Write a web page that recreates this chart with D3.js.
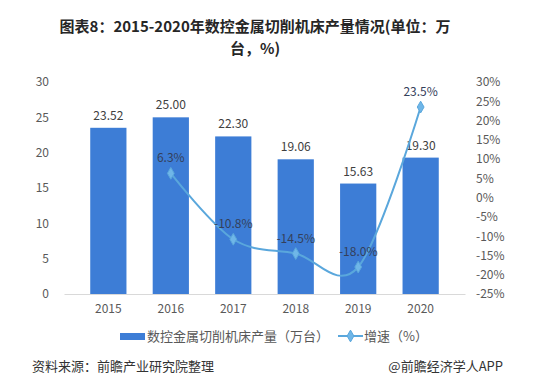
<!DOCTYPE html>
<html>
<head>
<meta charset="utf-8">
<script src="https://cdn.jsdelivr.net/npm/d3@7"></script>
<style>
  body { margin: 0; background: #fff; }
  text { font-family: "Noto Sans CJK SC", "Noto Sans", sans-serif; }
</style>
</head>
<body>
<div id="chart"></div>
<script>
const years = ["2015", "2016", "2017", "2018", "2019", "2020"];
const output = [23.52, 25.00, 22.30, 19.06, 15.63, 19.30];
const growth = [null, 6.3, -10.8, -14.5, -18.0, 23.5];
const leftTicks = [0, 5, 10, 15, 20, 25, 30];
const rightTicks = [-25, -20, -15, -10, -5, 0, 5, 10, 15, 20, 25, 30];
const titleLines = ["图表8：2015-2020年数控金属切削机床产量情况(单位：万", "台，%)"];

const width = 542, height = 389;
const margin = { top: 82, right: 77, bottom: 95, left: 64 };

const svg = d3.select("#chart").append("svg")
    .attr("width", width)
    .attr("height", height);

svg.append("rect").attr("width", width).attr("height", height).attr("fill", "#fff");

// title, two separate lines
svg.selectAll(".title").data(titleLines).enter().append("text")
    .attr("class", "title")
    .attr("x", 255)
    .attr("y", (d, i) => 32 + i * 22)
    .attr("text-anchor", "middle")
    .style("font-size", "15px")
    .style("font-weight", "bold")
    .attr("fill", "#262626")
    .text(d => d);

const x = d3.scaleBand().domain(years).range([margin.left, width - margin.right]).padding(0.42);
const y = d3.scaleLinear().domain([0, 30]).range([height - margin.bottom, margin.top]);
const y2 = d3.scaleLinear().domain([-25, 30]).range([height - margin.bottom, margin.top]);

// left axis
const yAxis = svg.append("g")
    .attr("transform", `translate(${margin.left - 4},0)`)
    .call(d3.axisLeft(y).tickValues(leftTicks).tickSize(0).tickPadding(11));
yAxis.select(".domain").remove();
yAxis.selectAll("text").style("font-size", "12px").attr("fill", "#595959");

// right axis
const y2Axis = svg.append("g")
    .attr("transform", `translate(${width - margin.right},0)`)
    .call(d3.axisRight(y2).tickValues(rightTicks).tickSize(0).tickPadding(11).tickFormat(d => d + "%"));
y2Axis.select(".domain").remove();
y2Axis.selectAll("text").style("font-size", "12px").attr("fill", "#595959");

// bars
svg.selectAll(".bar").data(years).enter().append("rect")
    .attr("class", "bar")
    .attr("x", d => x(d))
    .attr("y", (d, i) => y(output[i]))
    .attr("width", x.bandwidth())
    .attr("height", (d, i) => y(0) - y(output[i]))
    .attr("fill", "#3d7dd6");

// bottom axis
const xAxis = svg.append("g")
    .attr("transform", `translate(0,${y(0)})`)
    .call(d3.axisBottom(x).tickSize(0).tickPadding(10));
xAxis.select(".domain").attr("stroke", "#d9d9d9");
xAxis.selectAll("text").style("font-size", "12px").attr("fill", "#595959");

// bar labels
svg.selectAll(".bar-label").data(years).enter().append("text")
    .attr("class", "bar-label")
    .attr("x", d => x(d) + x.bandwidth() / 2)
    .attr("y", (d, i) => y(output[i]) - 8)
    .attr("text-anchor", "middle")
    .style("font-size", "12px")
    .attr("fill", "#404040")
    .text((d, i) => output[i].toFixed(2));

// growth line (Excel-style smoothing)
const pts = years.map((d, i) => ({ year: d, v: growth[i] })).filter(d => d.v !== null);
const line = d3.line()
    .x(d => x(d.year) + x.bandwidth() / 2)
    .y(d => y2(d.v))
    .curve(d3.curveCardinal.tension(0));

svg.append("path")
    .datum(pts)
    .attr("d", line)
    .attr("fill", "none")
    .attr("stroke", "#5aa7dc")
    .attr("stroke-width", 2);

const diamond = d3.symbol().type(d3.symbolDiamond).size(40);
svg.selectAll(".marker").data(pts).enter().append("path")
    .attr("class", "marker")
    .attr("d", diamond)
    .attr("transform", d => `translate(${x(d.year) + x.bandwidth() / 2},${y2(d.v)})`)
    .attr("fill", "#6fb6e8")
    .attr("stroke", "#5aa7dc")
    .attr("stroke-width", 1);

svg.selectAll(".growth-label").data(pts).enter().append("text")
    .attr("class", "growth-label")
    .attr("x", d => x(d.year) + x.bandwidth() / 2)
    .attr("y", d => y2(d.v) - 11)
    .attr("text-anchor", "middle")
    .style("font-size", "12px")
    .attr("fill", "#34405a")
    .text(d => d.v.toFixed(1) + "%");

// legend
const legY = 336;
svg.append("rect").attr("x", 120).attr("y", legY - 3).attr("width", 25).attr("height", 7).attr("fill", "#3d7dd6");
svg.append("text").attr("x", 147).attr("y", legY + 5).style("font-size", "13px").attr("fill", "#595959")
    .text("数控金属切削机床产量（万台）");
svg.append("line").attr("x1", 338).attr("x2", 363).attr("y1", legY).attr("y2", legY)
    .attr("stroke", "#5aa7dc").attr("stroke-width", 2);
svg.append("path").attr("d", diamond).attr("transform", `translate(350.5,${legY})`)
    .attr("fill", "#6fb6e8").attr("stroke", "#5aa7dc");
svg.append("text").attr("x", 364).attr("y", legY + 5).style("font-size", "13px").attr("fill", "#595959")
    .text("增速（%）");

// footer
svg.append("text").attr("x", 32).attr("y", 371).style("font-size", "13px").attr("fill", "#333")
    .text("资料来源：前瞻产业研究院整理");
svg.append("text").attr("x", 503).attr("y", 371).attr("text-anchor", "end").style("font-size", "13px").attr("fill", "#333")
    .text("@前瞻经济学人APP");
</script>
</body>
</html>
